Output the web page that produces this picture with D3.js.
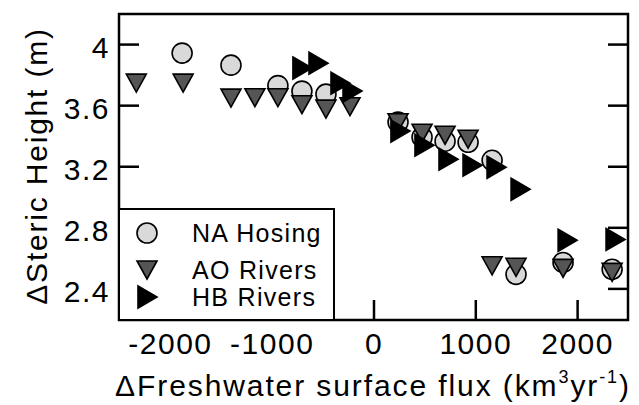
<!DOCTYPE html>
<html>
<head>
<meta charset="utf-8">
<script src="https://cdn.jsdelivr.net/npm/d3@7"></script>
<style>
  body { margin: 0; background: #fff; }
  text { font-family: "Liberation Sans", Arial, sans-serif; fill: #000; }
</style>
</head>
<body>
<div id="chart"></div>
<script>

// NA Hosing (circles)
var naX = [-1880, -1400, -939, -703, -467, 241, 477, 703, 929, 1165, 1400, 1862, 2344];
var naY = [3.941, 3.862, 3.728, 3.692, 3.672, 3.489, 3.39, 3.364, 3.357, 3.239, 2.492, 2.570, 2.525];

// AO Rivers (down triangles)
var aoX = [-2330, -1870, -1400, -1165, -939, -703, -467, -231, 241, 477, 703, 929, 1165, 1400, 1862, 2344];
var aoY = [3.744, 3.744, 3.646, 3.649, 3.649, 3.603, 3.574, 3.590, 3.485, 3.416, 3.403, 3.377, 2.548, 2.538, 2.531, 2.505];

// HB Rivers (right triangles)
var hbX = [-703, -545, -329, -211, 260, 496, 732, 968, 1204, 1440, 1902, 2373];
var hbY = [3.843, 3.875, 3.744, 3.692, 3.430, 3.338, 3.246, 3.207, 3.193, 3.049, 2.715, 2.721];

var xTicks = [-2000, -1000, 0, 1000, 2000];
var yTicks = [2.4, 2.8, 3.2, 3.6, 4];
var seriesNames = ["NA Hosing", "AO Rivers", "HB Rivers"];

var svgWidth = 639;
var svgHeight = 405;

var margin = { top: 14, right: 11, bottom: 85, left: 119 };
var width = svgWidth - margin.left - margin.right;
var height = svgHeight - margin.top - margin.bottom;

var svg = d3.select("#chart")
  .append("svg")
  .attr("width", svgWidth)
  .attr("height", svgHeight);

var chartGroup = svg.append("g")
  .attr("transform", `translate(${margin.left}, ${margin.top})`);

var xScale = d3.scaleLinear().domain([-2500, 2500]).range([0, width]);
var yScale = d3.scaleLinear().domain([2.193, 4.197]).range([height, 0]);

var triDown = "M-10,-9L10,-9L0,9Z";
var triRight = "M-9,-11L10,0L-9,11Z";

// axes with inward ticks, plain hyphen for negatives
var leftAxis = d3.axisLeft(yScale).tickValues(yTicks).tickSizeInner(-20).tickSizeOuter(0)
  .tickPadding(9).tickFormat(d => String(d));
var rightAxis = d3.axisRight(yScale).tickValues(yTicks).tickSizeInner(-20).tickSizeOuter(0)
  .tickFormat("");
var bottomAxis = d3.axisBottom(xScale).tickValues(xTicks).tickSizeInner(-20).tickSizeOuter(0)
  .tickPadding(13).tickFormat(d => String(d));

function styleAxis(g) {
  g.select(".domain").remove();
  g.selectAll(".tick line").attr("stroke", "#000").attr("stroke-width", 2.5);
  g.selectAll(".tick text")
    .style("font-family", "'Liberation Sans', Arial, sans-serif")
    .style("font-size", "30px")
    .style("letter-spacing", "1.5px")
    .attr("fill", "#000");
}

chartGroup.append("g").call(leftAxis).call(styleAxis)
  .selectAll(".tick text").attr("dy", "0.45em");
chartGroup.append("g").attr("transform", `translate(${width}, 0)`).call(rightAxis).call(styleAxis);
chartGroup.append("g").attr("transform", `translate(0, ${height})`).call(bottomAxis).call(styleAxis);

var naData = naX.map((x, i) => ({ x: x, y: naY[i] }));
var aoData = aoX.map((x, i) => ({ x: x, y: aoY[i] }));
var hbData = hbX.map((x, i) => ({ x: x, y: hbY[i] }));

chartGroup.selectAll(".na")
  .data(naData)
  .enter()
  .append("circle")
  .attr("class", "na")
  .attr("cx", d => xScale(d.x))
  .attr("cy", d => yScale(d.y))
  .attr("r", 10)
  .attr("fill", "#d9d9d9")
  .attr("stroke", "#000")
  .attr("stroke-width", 1.6);

chartGroup.selectAll(".ao")
  .data(aoData)
  .enter()
  .append("path")
  .attr("class", "ao")
  .attr("d", triDown)
  .attr("transform", d => `translate(${xScale(d.x)}, ${yScale(d.y)})`)
  .attr("fill", "#555555")
  .attr("stroke", "#000")
  .attr("stroke-width", 1.6);

chartGroup.selectAll(".hb")
  .data(hbData)
  .enter()
  .append("path")
  .attr("class", "hb")
  .attr("d", triRight)
  .attr("transform", d => `translate(${xScale(d.x)}, ${yScale(d.y)})`)
  .attr("fill", "#000")
  .attr("stroke", "#000")
  .attr("stroke-width", 1.6);

// legend
var legend = svg.append("g").attr("transform", "translate(119, 209)");
legend.append("rect")
  .attr("width", 215)
  .attr("height", 111)
  .attr("fill", "#fff")
  .attr("stroke", "#000")
  .attr("stroke-width", 2);

var rowY = [24, 61, 88];
legend.append("circle").attr("cx", 28).attr("cy", rowY[0]).attr("r", 10)
  .attr("fill", "#d9d9d9").attr("stroke", "#000").attr("stroke-width", 1.6);
legend.append("path").attr("d", triDown).attr("transform", `translate(28, ${rowY[1]})`)
  .attr("fill", "#555555").attr("stroke", "#000").attr("stroke-width", 1.6);
legend.append("path").attr("d", triRight).attr("transform", `translate(28, ${rowY[2]})`)
  .attr("fill", "#000").attr("stroke", "#000").attr("stroke-width", 1.6);

legend.selectAll(".legText")
  .data(seriesNames)
  .enter()
  .append("text")
  .attr("class", "legText")
  .attr("x", 73)
  .attr("y", (d, i) => rowY[i] + 9)
  .style("font-size", "25px")
  .style("letter-spacing", "1.3px")
  .text(d => d);

// frame
chartGroup.append("rect")
  .attr("width", width)
  .attr("height", height)
  .attr("fill", "none")
  .attr("stroke", "#000")
  .attr("stroke-width", 2.5);

// axis titles
var xTitle = svg.append("text")
  .attr("x", 373)
  .attr("y", 396)
  .attr("text-anchor", "middle")
  .style("font-size", "30px")
  .style("letter-spacing", "1.9px");
xTitle.append("tspan").text("\u0394Freshwater surface flux (km");
xTitle.append("tspan").attr("dy", -13).style("font-size", "18px").text("3");
xTitle.append("tspan").attr("dy", 13).text("yr");
xTitle.append("tspan").attr("dy", -13).style("font-size", "18px").text("-1");
xTitle.append("tspan").attr("dy", 13).text(")");

svg.append("text")
  .attr("transform", "translate(47, 166) rotate(-90)")
  .attr("text-anchor", "middle")
  .style("font-size", "30px")
  .style("letter-spacing", "1.8px")
  .text("\u0394Steric Height (m)");

</script>
</body>
</html>
